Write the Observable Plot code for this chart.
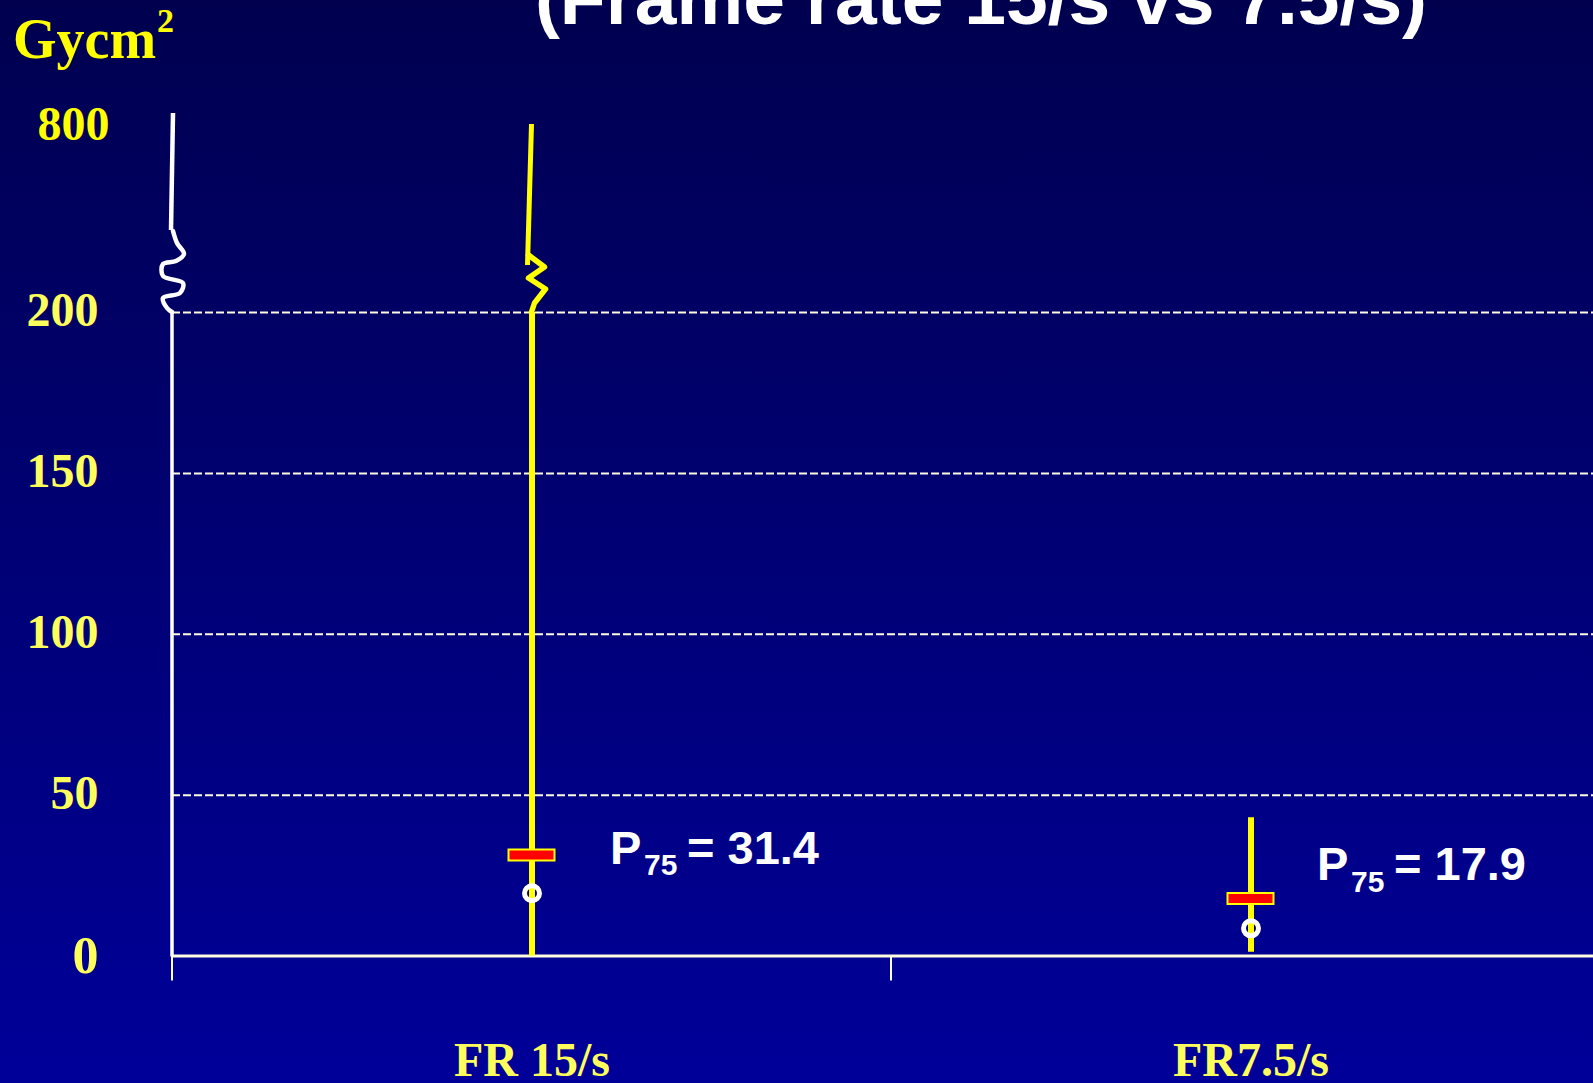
<!DOCTYPE html>
<html>
<head>
<meta charset="utf-8">
<script src="https://cdn.jsdelivr.net/npm/d3@7"></script>
<script src="https://cdn.jsdelivr.net/npm/@observablehq/plot@0.6"></script>
<style>
  html, body { margin: 0; padding: 0; overflow: hidden; }
  body {
    width: 1593px; height: 1083px; position: relative;
    background: linear-gradient(to bottom, #00004f 0%, #000099 100%);
  }
  #chart { position: absolute; left: 0; top: 0; }
  #title {
    position: absolute; left: 981px; top: -39px; transform: translateX(-50%);
    font: bold 75px/75px "Liberation Sans", Arial, sans-serif; color: #ffffff; white-space: nowrap;
  }
  #unit {
    position: absolute; left: 13px; top: 11px;
    font: bold 56px/56px "Liberation Serif", "Times New Roman", serif; color: #ffff00; white-space: nowrap;
  }
  #unit span { font-size: 34px; position: relative; top: -26px; margin-left: 1px; }
</style>
</head>
<body>
<div id="chart"></div>
<div id="title">(Frame rate 15/s vs 7.5/s)</div>
<div id="unit">Gycm<span>2</span></div>
<script>
// Dose-area product per frame-rate group (Gy·cm²)
const groups = ["FR 15/s", "FR7.5/s"];
const whiskerLow = [0, 1.2];
const whiskerHigh = [800, 43];
const p75 = [31.4, 17.9];
const median = [19.5, 8.6];

// y axis: linear up to 200, compressed segment above the break up to 800
const gridTicks = [50, 100, 150, 200];
const breakAt = 200;
const topTick = 800;
const axisTop = 835;

const rows = groups.map((group, i) => ({
  group, low: whiskerLow[i], high: whiskerHigh[i], p75: p75[i], median: median[i]
}));

const yellow = "#ffff00";
const paleYellow = "#ffff5c";
const lineWhite = "#fffde0";
const serif = "Liberation Serif, Times New Roman, serif";
const sans = "Liberation Sans, Arial, sans-serif";

// Axis stem and whiskers that run past the 200 line: wavy/zigzag break, then a straight top
function brokenStems(index, scales, values, dimensions) {
  const {x, y} = scales;
  const half = x.bandwidth ? x.bandwidth() / 2 : (x(groups[1]) - x(groups[0])) / 2;
  const g = d3.create("svg:g").attr("fill", "none");
  const base = y(breakAt);
  const line = d3.line();

  // group boundary ticks under the zero line
  for (const grp of groups) {
    const x0 = x(grp);
    g.append("line")
      .attr("x1", x0).attr("x2", x0).attr("y1", y(0)).attr("y2", y(0) + 25)
      .attr("stroke", lineWhite).attr("stroke-width", 2);
  }

  // left axis: straight to the break, S-shaped break, then on to the top
  const ax = dimensions.marginLeft;
  g.append("line")
    .attr("x1", ax).attr("x2", ax).attr("y1", y(0) + 1).attr("y2", base)
    .attr("stroke", "#ffffff").attr("stroke-width", 3.5);
  const wave = [[0, 0], [-5, -4], [-9, -14], [8, -19], [11, -29], [-9, -36], [-9, -48], [4, -51], [12, -58], [5, -69], [1, -81]];
  g.append("path")
    .attr("d", d3.line().curve(d3.curveCatmullRom)(wave.map(([dx, dy]) => [ax + dx, base + dy])))
    .attr("stroke", "#ffffff").attr("stroke-width", 4.5).attr("stroke-linecap", "round");
  g.append("line")
    .attr("x1", ax - 1).attr("x2", ax + 1).attr("y1", base - 82).attr("y2", y(axisTop))
    .attr("stroke", "#ffffff").attr("stroke-width", 4.5);

  // whiskers exceeding the break
  for (const d of rows) {
    if (d.high <= breakAt) continue;
    const cx = x(d.group) + half;
    const zig = [[0, 0], [3, -9], [14, -23], [-3, -34], [13, -45], [-3, -57]];
    g.append("path")
      .attr("d", line(zig.map(([dx, dy]) => [cx + dx, base + dy])))
      .attr("stroke", yellow).attr("stroke-width", 5.5)
      .attr("stroke-linejoin", "round").attr("stroke-linecap", "round");
    g.append("line")
      .attr("x1", cx - 4).attr("x2", cx).attr("y1", base - 47).attr("y2", y(d.high))
      .attr("stroke", yellow).attr("stroke-width", 5);
  }
  return g.node();
}

// "P75 = value" annotation: P, subscript 75, then "= value"
function p75Label(row, dx, dy) {
  const common = {x: "group", y: "p75", fill: "#ffffff", fontFamily: sans, fontWeight: "bold",
    textAnchor: "start", lineAnchor: "bottom"};
  return [
    Plot.text([row], {...common, text: () => "P", fontSize: 47, dx, dy}),
    Plot.text([row], {...common, text: () => "75", fontSize: 30, dx: dx + 34, dy: dy + 11.5}),
    Plot.text([row], {...common, text: d => `= ${d.p75}`, fontSize: 47, dx: dx + 77, dy})
  ];
}

const axisText = {fontFamily: serif, fontWeight: "bold", tickSize: 0, label: null};

const plot = Plot.plot({
  width: 1593,
  height: 1083,
  marginLeft: 172,
  marginRight: 0,
  marginTop: 312,
  marginBottom: 127.5,
  style: {background: "transparent", overflow: "visible"},
  x: {type: "band", domain: groups, range: [172, 1610], padding: 0, axis: null},
  y: {type: "linear", domain: [0, breakAt, topTick], range: [955.5, 312, 124], axis: null},
  marks: [
    Plot.ruleY(gridTicks, {stroke: lineWhite, strokeWidth: 2, strokeDasharray: "8,3"}),
    Plot.ruleY([0], {stroke: lineWhite, strokeWidth: 3}),
    Plot.axisY({...axisText, ticks: gridTicks, tickPadding: 74, fontSize: 48, dy: -2, color: paleYellow}),
    Plot.axisY({...axisText, ticks: [0], tickPadding: 74, fontSize: 52, color: paleYellow}),
    Plot.axisY({...axisText, ticks: [topTick], tickPadding: 63, fontSize: 48, color: yellow}),
    Plot.axisX({...axisText, tickPadding: 86, fontSize: 48, color: paleYellow}),
    brokenStems,
    Plot.ruleX(rows, {x: "group", y1: "low", y2: d => Math.min(d.high, breakAt), stroke: yellow, strokeWidth: 6}),
    Plot.tickY(rows, {x: "group", y: "p75", stroke: yellow, strokeWidth: 13, insetLeft: 335.5, insetRight: 335.5}),
    Plot.tickY(rows, {x: "group", y: "p75", stroke: "#ff0000", strokeWidth: 9, insetLeft: 337.5, insetRight: 337.5}),
    Plot.dot(rows, {x: "group", y: "median", r: 7.5, stroke: "#ffffff", strokeWidth: 5, fill: "none"}),
    ...p75Label(rows[0], 78, 8.8),
    ...p75Label(rows[1], 66, -18)
  ]
});

document.getElementById("chart").appendChild(plot);
</script>
</body>
</html>
